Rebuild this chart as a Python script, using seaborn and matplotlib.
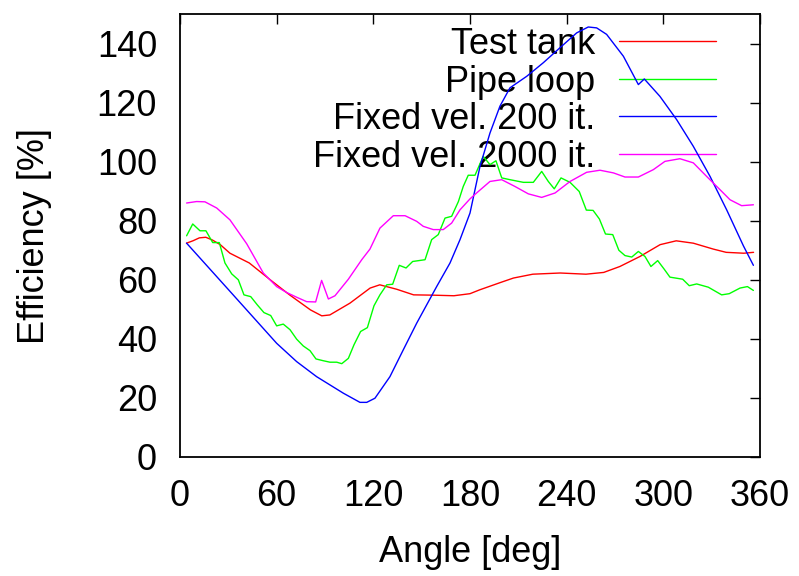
import numpy as np
import pandas as pd
import matplotlib
matplotlib.use("Agg")
import matplotlib.pyplot as plt
import seaborn as sns

series_names = ["Test tank", "Pipe loop", "Fixed vel. 200 it.", "Fixed vel. 2000 it."]
colors = ["#ff0000", "#00ff00", "#0000ff", "#ff00ff"]

tank_x = [4, 8, 12, 16, 20, 25, 31, 43, 56, 68, 81, 88, 93, 105.5, 118, 124, 134.5, 145, 157, 170,
          180, 186, 199, 207, 219, 236, 252, 263, 273, 285.5, 298, 308, 318.6, 331, 339, 350, 356]
tank_y = [72.4, 73.2, 74.2, 74.4, 73.5, 71.9, 69, 65.7, 60, 54.9, 49.8, 47.8, 48.1, 52.1, 57.2, 58.3,
          56.8, 54.9, 54.8, 54.6, 55.3, 56.6, 59.1, 60.6, 61.9, 62.3, 61.9, 62.5, 64.5, 67.9, 71.9,
          73.2, 72.4, 70.4, 69.3, 69, 69.3]

pipe_x = [4.1, 7.9, 12.4, 16.1, 20.3, 24.4, 27.9, 32.1, 36.2, 39.7, 43.9, 48, 52.1, 56.3, 60, 64.1,
          68.3, 72.4, 76.5, 80.7, 84.4, 88.9, 93.1, 97.3, 100.4, 104.5, 108, 112.1, 116.3, 120.4,
          124.1, 128.3, 132, 136.1, 140.3, 144.4, 152.1, 156.2, 160.3, 164.5, 168.6, 172.8, 175.8,
          178.9, 183.1, 188.2, 192.4, 196.1, 199.7, 204.8, 213.1, 219.3, 224.5, 228.6, 232.3, 236.5,
          242.1, 247.8, 252.2, 256.4, 260.3, 264.1, 268.6, 272.4, 276.2, 280.4, 284.5, 288.6, 292.3,
          296.5, 300.4, 304.1, 312, 316.1, 320.7, 327.9, 336.2, 340.9, 347.6, 352.2, 355.9]
pipe_y = [74.9, 78.9, 76.6, 76.6, 72.6, 72.6, 65.7, 62, 60, 54.9, 54.3, 51.5, 48.9, 47.9, 44.4, 45,
          43.1, 39.9, 37.6, 36, 33.2, 32.6, 32.1, 32.1, 31.6, 33.4, 38, 42.5, 43.8, 51.2, 54.9, 58.3,
          58.5, 64.9, 64, 66.2, 66.8, 73.6, 75.3, 80.9, 81.5, 86.5, 91.6, 95.4, 95.4, 101.8, 99, 100.3,
          94.5, 93.9, 93, 93, 96.7, 93.3, 90.8, 94.5, 93, 89.9, 83.6, 83.5, 80.6, 75.5, 75.3, 70,
          68.2, 67.7, 69.6, 67.9, 64.5, 66.5, 63.7, 60.9, 60.2, 58, 58.6, 57.5, 54.9, 55.3, 57.2,
          57.7, 56.4]

fv200_x = [4.1, 32, 60, 72.4, 84.8, 101.4, 111.7, 115.9, 121, 130.3, 138.6, 146.9, 159.3, 167.6,
           173.8, 180, 186.2, 192.4, 198.6, 204.8, 215.2, 225.5, 235.9, 246.2, 253.4, 258.6, 264.8,
           275.2, 284.5, 288.2, 297.9, 308.3, 318.6, 329, 339.3, 349.7, 355.9]
fv200_y = [72.4, 55.5, 38.5, 32.3, 27.2, 21.6, 18.5, 18.5, 19.9, 27.2, 36.3, 45.3, 57.7, 65.7, 73.6,
           82.6, 98.4, 109.7, 118.8, 125, 128.9, 133.5, 138.6, 143.6, 145.6, 145.3, 143.1, 135.7,
           126.1, 128, 122.1, 114.2, 105.2, 95, 83.7, 71.5, 64.9]

fv2000_x = [4.1, 10.3, 15.5, 22.8, 31, 41.4, 51.7, 60, 66.2, 72.4, 78.6, 84.2, 87.9, 92.1, 96.2,
            104.5, 112.8, 117.9, 124.1, 132.4, 139.7, 146.9, 151, 157.2, 163.4, 168.6, 173.8, 180,
            184.1, 192.4, 199.7, 207.9, 216.2, 224.5, 232.8, 242.1, 252.4, 260.7, 269, 276.2, 284.5,
            293.8, 301, 310.3, 318.6, 326.9, 335.2, 341.4, 348.6, 355.9]
fv2000_y = [86, 86.5, 86.4, 84.3, 80.3, 72.2, 62.3, 57.7, 55.7, 54.1, 52.6, 52.5, 59.8, 53.5, 54.6,
            60.2, 66.8, 70.4, 77.5, 81.7, 81.7, 79.8, 78.1, 77, 77, 79.2, 83.7, 87.4, 89.4, 93.3,
            93.9, 91.6, 89.1, 87.9, 89.4, 93.3, 96.4, 97.1, 96.2, 94.8, 94.8, 97.3, 100.1, 101,
            99.6, 95, 90.5, 87.1, 85.1, 85.4]

x_ticks = [0, 60, 120, 180, 240, 300, 360]
y_ticks = [0, 20, 40, 60, 80, 100, 120, 140]

frames = []
for name, xs, ys in zip(series_names,
                        [tank_x, pipe_x, fv200_x, fv2000_x],
                        [tank_y, pipe_y, fv200_y, fv2000_y]):
    frames.append(pd.DataFrame({"Angle": xs, "Efficiency": ys, "Series": name}))
df = pd.concat(frames, ignore_index=True)

sns.set_theme(style="white")
plt.rcParams["font.family"] = ["Liberation Sans", "DejaVu Sans"]
plt.rcParams["text.color"] = "black"
plt.rcParams["axes.labelcolor"] = "black"
plt.rcParams["xtick.color"] = "black"
plt.rcParams["ytick.color"] = "black"
plt.rcParams["axes.edgecolor"] = "black"

fig = plt.figure(figsize=(7.99, 5.76), dpi=100)
ax = fig.add_axes([180 / 799, 1 - 457 / 576, 580 / 799, 443 / 576])

sns.lineplot(data=df, x="Angle", y="Efficiency", hue="Series", hue_order=series_names,
             palette=colors, estimator=None, sort=False, linewidth=1.0, ax=ax)

ax.set_xlim(0, 360)
ax.set_ylim(0, 150)
ax.set_xticks(x_ticks)
ax.set_yticks(y_ticks)
ax.tick_params(direction="in", top=True, right=True, length=7, width=1.0,
               labelsize=26, colors="black")
ax.tick_params(axis="x", pad=16)
ax.tick_params(axis="y", pad=16.5)
for s in ax.spines.values():
    s.set_color("black")
    s.set_linewidth(1.3)

ax.set_xlabel("Angle [deg]", fontsize=26, labelpad=15, color="black")
ax.set_ylabel("Efficiency [%]", fontsize=26, labelpad=32, color="black")

leg = ax.legend(loc="upper right", bbox_to_anchor=(716 / 799, 1 - 27 / 576),
                bbox_transform=fig.transFigure, frameon=False, markerfirst=False,
                fontsize=26, handlelength=2.7, handletextpad=0.65, labelspacing=0.07,
                borderpad=0, borderaxespad=0)
for t in leg.get_texts():
    t.set_color("black")
leg.set_zorder(1)

fig.savefig("out.png", dpi=100)
